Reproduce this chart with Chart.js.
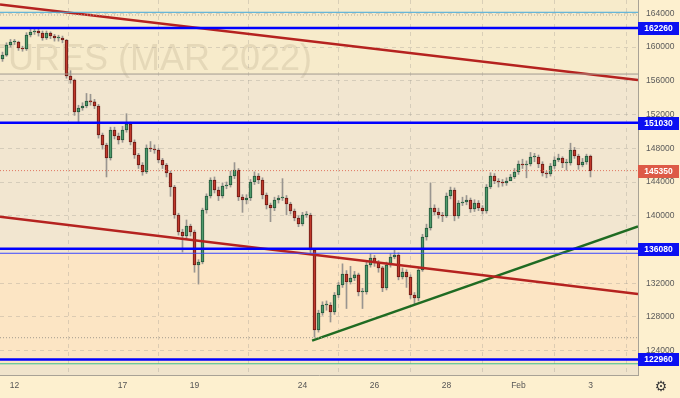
<!DOCTYPE html>
<html lang="en">
<head>
<meta charset="UTF-8">
<title>Futures (MAR 2022)</title>
<script src="https://cdn.jsdelivr.net/npm/chart.js"></script>
<style>
  html, body { margin: 0; padding: 0; background: #fdf0cf; }
  #wrap { width: 680px; height: 398px; }
</style>
</head>
<body>
<div id="wrap"><canvas id="chart" width="680" height="398"></canvas></div>
<script>
// hourly-ish candles (open = previous close)
const firstOpen = 158600;
const closes = [
  159050,160240,160600,160600,159890,159770,161430,161780,161900,161660,
  161070,161660,161310,161070,161070,160840,156570,156090,152300,152770,
  153010,153600,153490,153010,149570,148390,146850,150170,149450,148980,
  150170,150880,148740,147200,146020,145190,148030,147910,147790,146610,
  146020,145070,143410,140090,138070,137600,138780,138070,134160,134520,
  140680,142340,144240,143050,142340,143530,143640,144710,145420,142220,
  141870,142100,144000,144710,144240,142460,141270,140920,141870,142100,
  142100,141390,140560,139730,139020,140090,140090,135940,126450,128470,
  129420,129420,128590,130600,131790,133090,132150,132620,132980,130960,
  130960,134160,134990,134400,133810,131430,134160,135110,135350,132740,
  133330,132740,130600,130250,133570,137480,138550,140920,140440,140090,
  139970,142340,143050,139970,141510,141630,141870,140800,141510,140920,
  140560,143410,144710,144120,144000,143880,144120,144590,145190,146130,
  146020,146130,146960,146960,146130,145070,144950,145900,146610,146850,
  146250,146250,147790,147080,146020,146370,147080,145350
];
const highs = [
  159400,160500,160900,160900,160700,160100,161700,162100,162200,162100,
  161900,161900,161800,161500,161400,161300,160900,157200,156200,153100,
  153400,154500,154400,153800,153200,149800,148600,150500,150500,149800,
  150600,152100,151100,149000,147400,146300,148400,148800,148400,148000,
  146800,146200,145300,143600,140300,138400,139500,139000,138300,134800,
  140900,142600,144500,144600,143400,143900,144000,145300,146300,145600,
  142500,142500,144300,145200,145000,144500,142700,141500,142200,142400,
  144400,142400,141600,140800,140000,140400,140500,140300,136100,128800,
  129800,129900,129700,130900,132100,134300,133500,134000,133400,133200,
  131400,134500,135500,135300,134700,134000,134500,135500,136000,135600,
  133800,133600,133000,130900,133900,137800,139000,143900,141300,140900,
  140400,142700,143400,143300,141800,142200,142400,142100,141900,141800,
  141200,143700,145100,145000,144400,144300,144500,144900,145600,146500,
  146700,146500,147500,147400,147200,146400,145300,146200,147000,147300,
  147000,146700,148600,148100,147300,146800,147300,147200
];
const lows = [
  158300,158900,160000,160300,159600,159500,159600,161200,161500,161300,
  160800,160900,161000,160700,160700,160500,156300,155700,151900,151000,
  152500,152800,153100,152700,149200,147900,144600,146600,149100,148500,
  148700,149900,148400,146800,145600,144800,145000,147600,147400,146300,
  145600,144600,142300,139700,137700,135700,137300,137600,133300,131900,
  134300,140300,142100,142700,141800,142100,143200,143400,144400,141800,
  140400,141400,141800,143700,143800,142000,140800,139300,140600,141500,
  141800,140100,140200,139400,138700,138800,139800,135600,125600,126200,
  128200,128800,127400,128300,130300,131500,129000,131900,132300,130500,
  129000,130700,133900,134000,133300,131000,131200,133900,134900,132400,
  132500,131500,130200,129500,129900,133400,137100,138300,140100,139700,
  139300,139800,142000,139400,139700,141200,141300,140400,140500,140600,
  140200,140300,143200,143800,143400,143500,143600,144200,144400,144900,
  145600,144500,145900,146400,145700,144700,144500,144700,145600,146400,
  145700,145400,146000,146800,145500,145800,146100,144600
];

// axis: candle index on x, price on y
const dayTicks = [3, 30, 48, 75, 93, 111, 129, 147];
const dayLabels = ['12', '17', '19', '24', '26', '28', 'Feb', '3'];
const priceTicks = [124000, 128000, 132000, 136000, 140000, 144000, 148000, 152000, 156000, 160000, 164000];
const xMin = -0.625, xMax = 158.875;
const yMin = 121119, yMax = 165577;

// drawn levels
const keyLevels = [162260, 151030, 136080, 122960];
const lastPrice = 145350;
const cyanLevel = 164120;
const topDots = 163800;
const greyLevel = 156800;
const thinBlueLevel = 135550;
const lowDots = 125540;
const tealLevel = 122450;

// trend lines [x, price]
const redTopLine = [[xMin, 165040], [xMax, 156090]];
const redLowLine = [[xMin, 139890], [xMax, 130720]];
const greenLine = [[77.4, 125190], [xMax, 138740]];

// background bands: [from, to]
const bands = [
  [yMax, greyLevel, '#f7ebcb'],
  [greyLevel, thinBlueLevel, '#f2e6d0'],
  [thinBlueLevel, tealLevel, '#fce5c4'],
  [tealLevel, yMin, '#f0e4cc']
];

const opens = closes.map((c, i) => i === 0 ? firstOpen : closes[i - 1]);
const isUp = closes.map((c, i) => c >= opens[i]);

function hLine(v, color, width, dash) {
  return {
    type: 'line', data: [{x: xMin, y: v}, {x: xMax, y: v}],
    borderColor: color, borderWidth: width, borderDash: dash || [],
    pointRadius: 0, order: 0
  };
}
function segLine(pts, color, width) {
  return {
    type: 'line', data: pts.map(p => ({x: p[0], y: p[1]})),
    borderColor: color, borderWidth: width, pointRadius: 0, order: 0
  };
}
// no extra room for half tick labels, plot fills to the edges
function noPad(s) {
  s.paddingTop = 0; s.paddingBottom = 0;
  s.paddingLeft = 0; s.paddingRight = 0;
}

const bgPlugin = {
  id: 'bg',
  beforeDraw(chart) {
    const {ctx, chartArea: a, scales: {y}} = chart;
    ctx.save();
    ctx.fillStyle = '#fdf0cf';
    ctx.fillRect(0, 0, chart.width, chart.height);
    bands.forEach(b => {
      const y0 = y.getPixelForValue(b[0]), y1 = y.getPixelForValue(b[1]);
      ctx.fillStyle = b[2];
      ctx.fillRect(a.left, y0, a.right - a.left, y1 - y0);
    });
    ctx.beginPath();
    ctx.rect(a.left, a.top, a.right - a.left, a.bottom - a.top);
    ctx.clip();
    ctx.font = '36px "Liberation Sans"';
    ctx.fillStyle = 'rgba(110,90,60,0.13)';
    ctx.textAlign = 'right';
    ctx.textBaseline = 'alphabetic';
    ctx.fillText('FUTURES (MAR 2022)', 312, 70);
    ctx.restore();
  }
};

const labelPlugin = {
  id: 'labels',
  afterDraw(chart) {
    const {ctx, chartArea: a, scales: {y}} = chart;
    ctx.save();
    ctx.font = 'bold 8.5px "Liberation Sans"';
    ctx.textAlign = 'center';
    ctx.textBaseline = 'middle';
    const box = (v, bg) => {
      const py = Math.round(y.getPixelForValue(v));
      ctx.fillStyle = bg;
      ctx.fillRect(a.right, py - 6, 41, 13);
      ctx.fillStyle = '#ffffff';
      ctx.fillText(String(v), a.right + 20.5, py + 0.5);
    };
    keyLevels.forEach(v => box(v, '#0c10f2'));
    box(lastPrice, '#dd5a47');
    // settings gear
    ctx.font = '14px "DejaVu Sans"';
    ctx.fillStyle = '#3a3a3a';
    ctx.fillText('\u2699', 661, 387);
    ctx.restore();
  }
};

new Chart(document.getElementById('chart'), {
  type: 'bar',
  data: {
    datasets: [
      {
        label: 'wick',
        data: closes.map((c, i) => ({x: i, y: [lows[i], highs[i]]})),
        backgroundColor: '#999590',
        barThickness: 1, grouped: false, order: 2
      },
      {
        label: 'body',
        data: closes.map((c, i) => ({x: i, y: [opens[i], c]})),
        backgroundColor: isUp.map(u => u ? '#4f9a6b' : '#c0392b'),
        borderColor: isUp.map(u => u ? '#22563a' : '#6a1a14'),
        borderWidth: 1, borderSkipped: false,
        barThickness: 3, minBarLength: 1, grouped: false, order: 1
      },
      hLine(cyanLevel, '#3ea8dc', 1),
      hLine(topDots, '#b4ab9b', 1, [1, 2]),
      hLine(greyLevel, '#a29b8f', 1),
      hLine(lastPrice, '#e07560', 1, [1, 2]),
      hLine(thinBlueLevel, '#3a46ff', 1),
      hLine(lowDots, '#a29b8f', 1, [1, 2]),
      hLine(tealLevel, '#3cc08c', 1),
      ...keyLevels.map(v => hLine(v, '#0000ff', 2.5)),
      segLine(redTopLine, '#b5221f', 2.5),
      segLine(redLowLine, '#b5221f', 2.5),
      segLine(greenLine, '#1f6b22', 2.5)
    ]
  },
  options: {
    responsive: false,
    animation: false,
    events: [],
    layout: { padding: 0 },
    plugins: { legend: { display: false }, tooltip: { enabled: false } },
    scales: {
      x: {
        type: 'linear', min: xMin, max: xMax, offset: false,
        afterFit: s => { s.height = 23; noPad(s); },
        afterBuildTicks: s => { s.ticks = dayTicks.map(v => ({value: v})); },
        ticks: {
          callback: (v, i) => dayLabels[i],
          autoSkip: false, maxRotation: 0, padding: 6,
          color: '#555555', font: { family: 'Liberation Sans', size: 8.5 }
        },
        grid: { color: 'rgba(160,155,145,0.35)', drawTicks: false },
        border: { display: true, color: '#a8a296', dash: [4, 4] }
      },
      y: {
        position: 'right', min: yMin, max: yMax,
        afterFit: s => { s.width = 42; noPad(s); },
        afterBuildTicks: s => { s.ticks = priceTicks.map(v => ({value: v})); },
        ticks: {
          callback: v => String(v), padding: 8,
          color: '#5a5a5a', font: { family: 'Liberation Sans', size: 8.5 }
        },
        grid: { color: 'rgba(160,155,145,0.35)', drawTicks: false },
        border: { display: true, color: '#a8a296', dash: [4, 4] }
      }
    }
  },
  plugins: [bgPlugin, labelPlugin]
});
</script>
</body>
</html>
